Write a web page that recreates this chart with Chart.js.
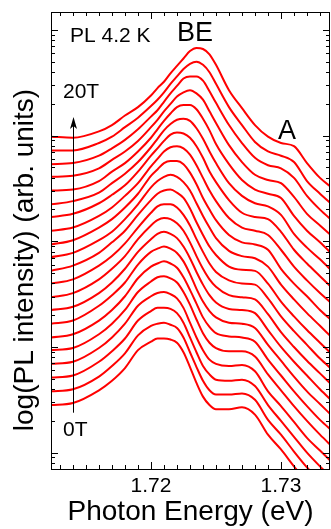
<!DOCTYPE html>
<html>
<head>
<meta charset="utf-8">
<script src="https://cdn.jsdelivr.net/npm/chart.js@4.4.1/dist/chart.umd.min.js"></script>
<style>
  html, body { margin: 0; padding: 0; background: #fff; }
  #wrap { width: 331px; height: 529px; }
</style>
</head>
<body>
<div id="wrap"><canvas id="plChart"></canvas></div>
<script>
// photon energy grid (eV)
const energy = [1.7123, 1.714, 1.716, 1.717, 1.718, 1.719, 1.720, 1.7205, 1.721, 1.7215, 1.722, 1.7225,
  1.723, 1.7235, 1.724, 1.7245, 1.725, 1.726, 1.727, 1.728, 1.729, 1.730, 1.731, 1.732, 1.733, 1.734];

// log10(PL intensity), spectra shifted upward with field
const pl0T  = [0.45, 0.47, 0.59, 0.68, 0.80, 0.97, 1.05, 1.08, 1.08, 1.07, 1.04, 0.95, 0.81, 0.66, 0.53, 0.45, 0.41, 0.41, 0.43, 0.36, 0.17, 0.03, -0.13, -0.28, -0.42, -0.54];
const pl1T  = [0.58, 0.60, 0.72, 0.82, 0.94, 1.11, 1.20, 1.22, 1.23, 1.21, 1.18, 1.09, 0.95, 0.81, 0.68, 0.59, 0.55, 0.55, 0.56, 0.50, 0.31, 0.17, 0.01, -0.14, -0.27, -0.39];
const pl2T  = [0.71, 0.73, 0.86, 0.96, 1.08, 1.25, 1.34, 1.37, 1.37, 1.36, 1.32, 1.23, 1.09, 0.95, 0.82, 0.74, 0.69, 0.68, 0.69, 0.63, 0.45, 0.30, 0.15, 0.00, -0.13, -0.25];
const pl3T  = [0.84, 0.86, 0.99, 1.09, 1.22, 1.39, 1.48, 1.51, 1.52, 1.50, 1.46, 1.37, 1.23, 1.09, 0.97, 0.88, 0.84, 0.82, 0.83, 0.77, 0.58, 0.44, 0.29, 0.14, 0.02, -0.10];
const pl4T  = [0.97, 0.99, 1.12, 1.22, 1.35, 1.52, 1.62, 1.66, 1.67, 1.65, 1.61, 1.52, 1.40, 1.26, 1.13, 1.04, 0.99, 0.96, 0.96, 0.91, 0.74, 0.59, 0.44, 0.30, 0.17, 0.05];
const pl5T  = [1.09, 1.12, 1.25, 1.35, 1.48, 1.65, 1.76, 1.79, 1.81, 1.79, 1.75, 1.66, 1.54, 1.41, 1.28, 1.19, 1.13, 1.10, 1.09, 1.05, 0.88, 0.73, 0.58, 0.44, 0.31, 0.20];
const pl6T  = [1.22, 1.25, 1.39, 1.49, 1.61, 1.78, 1.90, 1.93, 1.95, 1.93, 1.89, 1.81, 1.69, 1.55, 1.43, 1.34, 1.28, 1.23, 1.22, 1.18, 1.02, 0.87, 0.72, 0.58, 0.46, 0.34];
const pl7T  = [1.35, 1.38, 1.51, 1.61, 1.74, 1.90, 2.02, 2.07, 2.09, 2.07, 2.03, 1.95, 1.84, 1.71, 1.59, 1.49, 1.42, 1.36, 1.35, 1.32, 1.16, 1.00, 0.86, 0.73, 0.60, 0.48];
const pl8T  = [1.47, 1.51, 1.64, 1.74, 1.86, 2.02, 2.15, 2.20, 2.22, 2.21, 2.17, 2.10, 1.99, 1.86, 1.74, 1.64, 1.57, 1.49, 1.47, 1.45, 1.31, 1.14, 1.00, 0.87, 0.75, 0.63];
const pl9T  = [1.60, 1.64, 1.77, 1.86, 1.98, 2.13, 2.27, 2.33, 2.35, 2.35, 2.32, 2.25, 2.15, 2.02, 1.90, 1.79, 1.71, 1.63, 1.60, 1.59, 1.46, 1.29, 1.15, 1.02, 0.89, 0.78];
const pl10T = [1.72, 1.77, 1.89, 1.99, 2.10, 2.25, 2.39, 2.45, 2.48, 2.49, 2.46, 2.41, 2.31, 2.18, 2.06, 1.95, 1.87, 1.76, 1.73, 1.72, 1.60, 1.43, 1.29, 1.16, 1.04, 0.92];
const pl11T = [1.85, 1.89, 2.01, 2.09, 2.21, 2.35, 2.51, 2.57, 2.61, 2.63, 2.61, 2.56, 2.48, 2.36, 2.24, 2.13, 2.03, 1.91, 1.86, 1.84, 1.76, 1.59, 1.45, 1.32, 1.20, 1.08];
const pl12T = [1.97, 2.01, 2.13, 2.21, 2.32, 2.45, 2.62, 2.68, 2.74, 2.76, 2.76, 2.73, 2.65, 2.54, 2.41, 2.30, 2.20, 2.06, 1.99, 1.97, 1.92, 1.74, 1.60, 1.48, 1.35, 1.24];
const pl13T = [2.10, 2.13, 2.24, 2.32, 2.43, 2.55, 2.71, 2.78, 2.85, 2.89, 2.90, 2.88, 2.82, 2.72, 2.60, 2.48, 2.38, 2.22, 2.13, 2.10, 2.06, 1.92, 1.76, 1.63, 1.51, 1.40];
const pl14T = [2.23, 2.26, 2.36, 2.44, 2.53, 2.66, 2.81, 2.88, 2.95, 3.01, 3.03, 3.02, 2.98, 2.90, 2.79, 2.66, 2.56, 2.39, 2.27, 2.23, 2.21, 2.09, 1.92, 1.79, 1.67, 1.55];
const pl15T = [2.35, 2.38, 2.46, 2.55, 2.64, 2.75, 2.89, 2.97, 3.05, 3.11, 3.15, 3.16, 3.14, 3.07, 2.97, 2.85, 2.74, 2.55, 2.43, 2.36, 2.33, 2.25, 2.07, 1.94, 1.83, 1.71];
const pl16T = [2.48, 2.49, 2.57, 2.66, 2.74, 2.85, 2.98, 3.06, 3.14, 3.21, 3.27, 3.29, 3.29, 3.25, 3.16, 3.05, 2.92, 2.73, 2.58, 2.49, 2.45, 2.41, 2.24, 2.10, 1.99, 1.87];
const pl17T = [2.61, 2.62, 2.69, 2.77, 2.85, 2.95, 3.08, 3.15, 3.23, 3.30, 3.37, 3.41, 3.43, 3.40, 3.34, 3.23, 3.12, 2.91, 2.75, 2.63, 2.58, 2.55, 2.42, 2.26, 2.15, 2.04];
const pl18T = [2.73, 2.74, 2.81, 2.88, 2.96, 3.06, 3.18, 3.24, 3.32, 3.40, 3.47, 3.54, 3.56, 3.56, 3.52, 3.42, 3.31, 3.10, 2.93, 2.79, 2.72, 2.69, 2.60, 2.43, 2.30, 2.19];
const pl19T = [2.86, 2.86, 2.93, 2.99, 3.08, 3.17, 3.28, 3.34, 3.41, 3.49, 3.56, 3.63, 3.68, 3.70, 3.67, 3.60, 3.49, 3.27, 3.10, 2.94, 2.85, 2.81, 2.75, 2.57, 2.45, 2.34];
const pl20T = [2.99, 2.98, 3.04, 3.10, 3.19, 3.27, 3.38, 3.45, 3.51, 3.59, 3.66, 3.73, 3.80, 3.83, 3.82, 3.77, 3.67, 3.43, 3.26, 3.10, 2.99, 2.93, 2.90, 2.74, 2.60, 2.50];

const fields = ['0T', '1T', '2T', '3T', '4T', '5T', '6T', '7T', '8T', '9T', '10T',
  '11T', '12T', '13T', '14T', '15T', '16T', '17T', '18T', '19T', '20T'];
const spectra = [pl0T, pl1T, pl2T, pl3T, pl4T, pl5T, pl6T, pl7T, pl8T, pl9T, pl10T,
  pl11T, pl12T, pl13T, pl14T, pl15T, pl16T, pl17T, pl18T, pl19T, pl20T];
const energyLabels = ['1.72', '1.73'];

const FONT = 'Liberation Sans, Arial, sans-serif';

// text annotations, placed in data units (energy, log10 intensity)
const notes = [
  { text: 'PL 4.2 K', e: 1.71377, lg: 3.886, size: 21 },
  { text: 'BE', e: 1.72200, lg: 3.896, size: 27 },
  { text: 'A', e: 1.72977, lg: 2.969, size: 27 },
  { text: fields[20], e: 1.71323, lg: 3.357, size: 21 },
  { text: fields[0], e: 1.71323, lg: 0.161, size: 21 }
];
const arrow = { e: 1.7140, from: 0.378, to: 3.177 };

const decorations = {
  id: 'decorations',
  afterDraw(chart) {
    const { ctx, chartArea: a, scales: { x, y } } = chart;
    ctx.save();
    ctx.strokeStyle = '#000';
    ctx.fillStyle = '#000';
    ctx.lineWidth = 1;
    ctx.strokeRect(a.left + 0.5, a.top + 0.5, a.right - a.left - 1, a.bottom - a.top);

    // inward ticks on x (bottom and top)
    ctx.beginPath();
    x.ticks.forEach(t => {
      const px = Math.round(x.getPixelForValue(t.value)) + 0.5;
      const len = t.label ? 7 : 4;
      ctx.moveTo(px, a.bottom); ctx.lineTo(px, a.bottom - len);
      ctx.moveTo(px, a.top); ctx.lineTo(px, a.top + len);
    });
    // inward log ticks on y (left and right)
    for (let n = -1; n <= 4; n++) {
      for (let k = 1; k <= 9; k++) {
        const v = k * Math.pow(10, n);
        if (v < y.min || v > y.max) continue;
        const py = Math.round(y.getPixelForValue(v)) + 0.5;
        const len = k === 1 ? 7 : 4;
        ctx.moveTo(a.left, py); ctx.lineTo(a.left + len, py);
        ctx.moveTo(a.right, py); ctx.lineTo(a.right - len, py);
      }
    }
    ctx.stroke();

    // y title
    ctx.save();
    ctx.translate(33, 260);
    ctx.rotate(-Math.PI / 2);
    ctx.font = '28px ' + FONT;
    ctx.textAlign = 'center';
    ctx.textBaseline = 'alphabetic';
    ctx.fillText('log(PL intensity) (arb. units)', 0, 0);
    ctx.restore();

    // annotations
    ctx.textAlign = 'left';
    ctx.textBaseline = 'alphabetic';
    notes.forEach(nt => {
      ctx.font = nt.size + 'px ' + FONT;
      ctx.fillText(nt.text, x.getPixelForValue(nt.e), y.getPixelForValue(Math.pow(10, nt.lg)));
    });

    // field arrow
    const ax = Math.round(x.getPixelForValue(arrow.e)) + 0.5;
    const y0 = y.getPixelForValue(Math.pow(10, arrow.from));
    const y1 = y.getPixelForValue(Math.pow(10, arrow.to));
    ctx.beginPath();
    ctx.moveTo(ax, y0); ctx.lineTo(ax, y1 + 8);
    ctx.stroke();
    ctx.beginPath();
    ctx.moveTo(ax, y1);
    ctx.lineTo(ax - 3.5, y1 + 12);
    ctx.lineTo(ax, y1 + 9);
    ctx.lineTo(ax + 3.5, y1 + 12);
    ctx.closePath();
    ctx.fill();
    ctx.restore();
  }
};

new Chart(document.getElementById('plChart').getContext('2d'), {
  type: 'line',
  data: {
    datasets: spectra.map((s, i) => ({
      label: fields[i],
      data: s.map((v, j) => ({ x: energy[j], y: Math.pow(10, v) })),
      borderColor: '#ff0000',
      borderWidth: 2,
      pointRadius: 0,
      fill: false,
      cubicInterpolationMode: 'monotone'
    }))
  },
  options: {
    responsive: true,
    maintainAspectRatio: false,
    animation: false,
    layout: { padding: { left: 51, right: 1, top: 12, bottom: 0 } },
    plugins: { legend: { display: false }, tooltip: { enabled: false } },
    scales: {
      x: {
        type: 'linear',
        min: 1.71231,
        max: 1.73377,
        grid: { display: false, drawTicks: false },
        border: { display: false },
        ticks: {
          stepSize: 0.001,
          includeBounds: false,
          autoSkip: false,
          maxRotation: 0,
          padding: 5,
          color: '#000',
          font: { family: FONT, size: 21 },
          callback: v => {
            const s = v.toFixed(2);
            return energyLabels.includes(s) && Math.abs(v - Number(s)) < 1e-6 ? s : '';
          }
        },
        title: {
          display: true,
          text: 'Photon Energy (eV)',
          color: '#000',
          font: { family: FONT, size: 28 },
          padding: { top: 0, bottom: 0 }
        },
        afterFit: scale => { scale.height = 60; }
      },
      y: {
        type: 'logarithmic',
        display: false,
        min: 0.706,
        max: 14790
      }
    }
  },
  plugins: [decorations]
});
</script>
</body>
</html>
